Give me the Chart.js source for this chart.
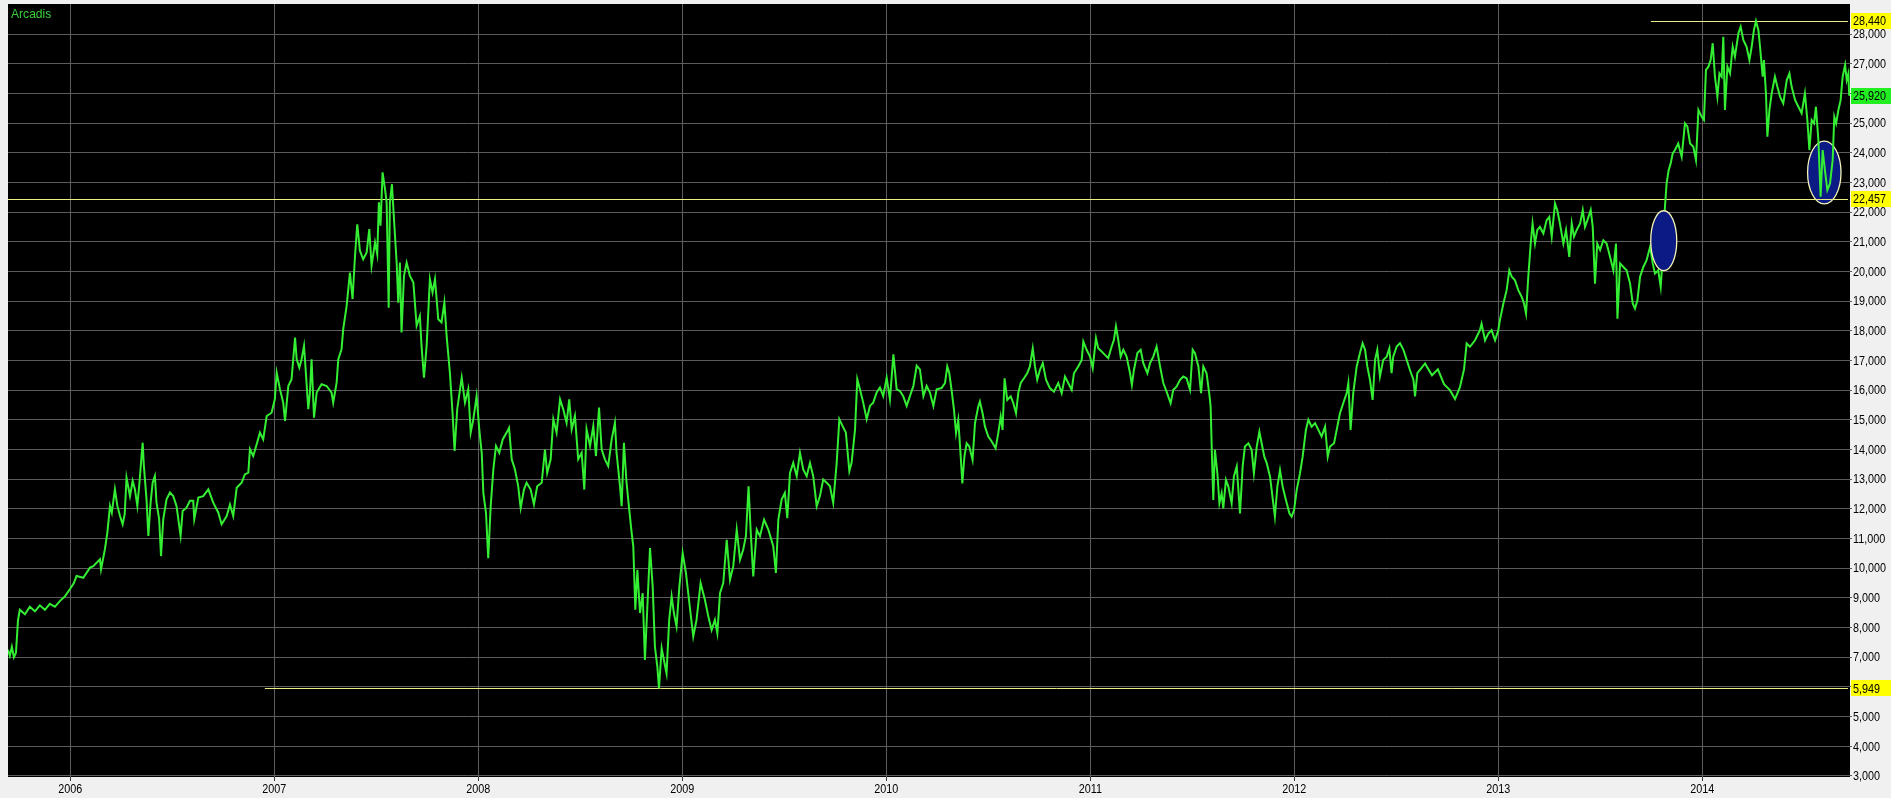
<!DOCTYPE html>
<html>
<head>
<meta charset="utf-8">
<script src="https://cdn.jsdelivr.net/npm/chart.js@4.4.1/dist/chart.umd.min.js"></script>
<style>
html,body{margin:0;padding:0;background:#f0f0f0;overflow:hidden}
#wrap{position:relative;width:1891px;height:798px}
canvas{display:block}
</style>
</head>
<body>
<div id="wrap"><canvas id="c" width="1891" height="798"></canvas></div>
<script>
// ---------- DATA ----------
const seriesName = 'Arcadis';
const yearTicks = [2006, 2007, 2008, 2009, 2010, 2011, 2012, 2013, 2014];
const priceTicks = [3000,4000,5000,6000,7000,8000,9000,10000,11000,12000,13000,14000,15000,16000,17000,18000,19000,20000,21000,22000,23000,24000,25000,26000,27000,28000];
// decimal-year dates of the samples
const dates = [
2005.695,2005.704,2005.714,2005.724,2005.734,2005.744,2005.753,2005.778,2005.802,2005.827,2005.851,2005.876,2005.900,2005.925,2005.950,2005.974,2005.999,2006.018,
2006.031,2006.064,2006.097,2006.113,2006.146,2006.151,2006.170,2006.182,2006.195,2006.204,2006.219,2006.231,2006.244,2006.257,2006.267,2006.276,2006.293,2006.306,2006.317,2006.329,2006.338,2006.355,2006.361,2006.374,2006.383,2006.394,2006.404,2006.415,2006.423,2006.436,2006.445,2006.456,2006.472,2006.489,2006.505,2006.521,2006.541,2006.551,2006.570,2006.587,2006.603,2006.608,2006.628,2006.652,2006.677,2006.701,2006.726,2006.742,2006.767,2006.783,2006.799,2006.816,2006.840,2006.856,2006.873,2006.881,2006.897,2006.914,2006.930,2006.946,2006.963,2006.987,
2007.003,2007.012,2007.028,2007.044,2007.053,2007.069,2007.085,2007.102,2007.110,2007.123,2007.134,2007.146,2007.155,2007.167,2007.175,2007.183,2007.195,2007.208,2007.232,2007.257,2007.281,2007.289,2007.306,2007.314,2007.330,2007.338,2007.355,2007.371,2007.384,2007.396,2007.407,2007.420,2007.436,2007.453,2007.466,2007.477,2007.494,2007.505,2007.513,2007.521,2007.531,2007.543,2007.551,2007.561,2007.567,2007.577,2007.587,2007.600,2007.608,2007.616,2007.624,2007.636,2007.649,2007.665,2007.682,2007.698,2007.714,2007.722,2007.734,2007.747,2007.763,2007.776,2007.788,2007.804,2007.820,2007.834,2007.845,2007.861,2007.874,2007.884,2007.897,2007.919,2007.935,2007.951,
2007.963,2007.976,2007.992,2008.005,2008.017,2008.025,2008.038,2008.049,2008.061,2008.074,2008.087,2008.103,2008.120,2008.139,2008.151,2008.164,2008.180,2008.196,2008.208,2008.224,2008.237,2008.257,2008.273,2008.289,2008.311,2008.327,2008.338,2008.355,2008.368,2008.384,2008.401,2008.417,2008.433,2008.446,2008.458,2008.474,2008.490,2008.507,2008.520,2008.531,2008.548,2008.564,2008.577,2008.592,2008.605,2008.621,2008.637,2008.654,2008.670,2008.678,2008.695,2008.703,2008.714,2008.727,2008.740,2008.752,2008.760,2008.770,2008.780,2008.793,2008.806,2008.817,2008.829,2008.842,2008.855,2008.866,2008.878,2008.886,2008.899,2008.910,2008.923,2008.936,2008.948,2008.959,2008.972,2008.986,
2009.002,2009.018,2009.035,2009.054,2009.070,2009.090,2009.111,2009.128,2009.144,2009.160,2009.172,2009.185,2009.201,2009.218,2009.234,2009.250,2009.267,2009.283,2009.299,2009.312,2009.325,2009.335,2009.348,2009.365,2009.381,2009.401,2009.422,2009.446,2009.459,2009.471,2009.487,2009.503,2009.515,2009.528,2009.544,2009.561,2009.577,2009.593,2009.610,2009.626,2009.642,2009.659,2009.675,2009.691,2009.708,2009.724,2009.740,2009.757,2009.770,2009.786,2009.802,2009.819,2009.830,2009.847,2009.858,2009.871,2009.887,2009.904,2009.920,2009.936,2009.953,2009.969,2009.985,
2010.002,2010.018,2010.035,2010.051,2010.067,2010.083,2010.100,2010.116,2010.133,2010.149,2010.165,2010.182,2010.198,2010.214,2010.231,2010.247,2010.271,2010.288,2010.299,2010.309,2010.320,2010.332,2010.342,2010.353,2010.365,2010.373,2010.383,2010.394,2010.407,2010.423,2010.435,2010.451,2010.459,2010.472,2010.484,2010.500,2010.517,2010.536,2010.549,2010.561,2010.570,2010.580,2010.593,2010.610,2010.623,2010.636,2010.647,2010.659,2010.675,2010.691,2010.704,2010.718,2010.729,2010.740,2010.753,2010.767,2010.783,2010.802,2010.822,2010.843,2010.860,2010.876,2010.892,2010.909,2010.920,2010.941,2010.958,2010.966,2010.982,2010.999,
2011.012,2011.028,2011.039,2011.056,2011.072,2011.088,2011.105,2011.116,2011.126,2011.137,2011.149,2011.162,2011.178,2011.195,2011.204,2011.214,2011.231,2011.247,2011.260,2011.280,2011.293,2011.309,2011.325,2011.342,2011.358,2011.374,2011.394,2011.407,2011.423,2011.440,2011.456,2011.472,2011.489,2011.502,2011.513,2011.530,2011.543,2011.554,2011.570,2011.584,2011.590,2011.597,2011.603,2011.611,2011.623,2011.633,2011.644,2011.652,2011.665,2011.677,2011.693,2011.704,2011.718,2011.734,2011.747,2011.758,2011.775,2011.791,2011.802,2011.816,2011.829,2011.840,2011.853,2011.865,2011.881,2011.897,2011.905,2011.917,2011.930,2011.943,2011.959,2011.976,2011.987,2011.999,
2012.012,2012.028,2012.041,2012.057,2012.069,2012.085,2012.102,2012.118,2012.134,2012.151,2012.164,2012.175,2012.195,2012.211,2012.224,2012.240,2012.257,2012.265,2012.276,2012.289,2012.306,2012.322,2012.335,2012.347,2012.358,2012.371,2012.384,2012.396,2012.407,2012.420,2012.436,2012.453,2012.466,2012.477,2012.485,2012.502,2012.518,2012.535,2012.551,2012.567,2012.584,2012.592,2012.603,2012.616,2012.641,2012.675,2012.704,2012.734,2012.763,2012.788,2012.812,2012.832,2012.845,2012.861,2012.886,2012.910,2012.918,2012.935,2012.951,2012.967,2012.984,
2013.000,2013.008,2013.025,2013.041,2013.054,2013.066,2013.082,2013.098,2013.115,2013.126,2013.136,2013.147,2013.159,2013.168,2013.180,2013.191,2013.204,2013.221,2013.237,2013.250,2013.262,2013.278,2013.289,2013.302,2013.319,2013.332,2013.348,2013.360,2013.371,2013.384,2013.401,2013.414,2013.425,2013.437,2013.453,2013.463,2013.474,2013.485,2013.499,2013.515,2013.531,2013.548,2013.564,2013.577,2013.584,2013.597,2013.613,2013.629,2013.646,2013.659,2013.670,2013.682,2013.695,2013.711,2013.727,2013.744,2013.757,2013.768,2013.784,2013.796,2013.806,2013.812,2013.817,2013.825,2013.835,2013.845,2013.855,2013.866,2013.882,2013.899,2013.915,2013.927,2013.940,2013.956,2013.969,2013.981,2013.997,
2014.008,2014.018,2014.030,2014.041,2014.051,2014.062,2014.074,2014.084,2014.095,2014.103,2014.111,2014.123,2014.136,2014.149,2014.160,2014.177,2014.188,2014.201,2014.217,2014.231,2014.242,2014.253,2014.263,2014.275,2014.283,2014.296,2014.302,2014.312,2014.319,2014.329,2014.340,2014.356,2014.368,2014.381,2014.397,2014.414,2014.427,2014.438,2014.455,2014.471,2014.487,2014.503,2014.515,2014.525,2014.536,2014.548,2014.557,2014.569,2014.580,2014.590,2014.601,2014.613,2014.626,2014.639,2014.647,2014.656,2014.667,2014.678,2014.688,2014.700,2014.708,2014.716,2014.720
];
// prices as shown on the chart
const prices = [
7250,7050,7350,7000,7150,8250,8600,8450,8700,8550,8750,8600,8800,8700,8900,9050,9300,9500,
9740,9680,10020,10070,10300,9960,10640,11200,12100,11870,12660,12100,11760,11480,11820,13050,12430,12940,12660,12100,12770,14230,13450,12320,11090,12210,12880,13110,12210,11650,10410,11650,12320,12550,12430,12100,11090,11930,12040,12270,12270,11650,12380,12430,12660,12210,11870,11480,11760,12150,11760,12710,12880,13160,13220,14010,13780,14180,14570,14340,15130,15240,
15690,16590,16030,15580,14960,16140,16370,17770,17040,16760,17040,17490,16590,15360,15920,17040,15070,15920,16200,16140,15920,15580,16260,17040,17380,18050,18840,19960,19070,20530,21590,20700,20410,20640,21430,20190,20980,20580,22330,21540,23340,22770,22330,18780,22330,22940,21760,20300,18950,20300,17940,19850,20300,19850,19630,18170,18500,17490,16420,17490,19740,19290,19740,18390,18280,18950,17830,16590,15240,13950,15360,16420,15580,16030,
14570,15020,15800,14680,13890,12540,11860,10340,12090,13330,14120,13890,14340,14570,14730,13670,13330,12760,12030,12650,12880,12650,12150,12760,12880,14000,13210,13670,15020,14570,15690,15350,14900,15690,14680,15130,13670,13890,12650,14680,14120,14790,13780,15410,14000,13670,13440,14340,14900,13890,12760,12090,14230,12880,11980,11190,10740,8600,9950,8490,9160,6910,8710,10680,9390,7360,6680,5949,7300,6910,6460,8260,9050,8490,8040,9390,
10510,9840,8820,7700,8260,9500,8940,8370,7920,8260,7810,9160,9500,10960,9610,10060,11300,10290,10630,11080,12760,11300,9720,11300,11080,11640,11300,10740,9840,11640,12310,12540,11690,13210,13550,13100,13890,13330,13100,13550,13100,12090,12430,12990,12880,12760,12200,13550,15020,14790,14570,13270,13550,14680,16370,16030,15580,15020,15470,15580,15920,16090,15800,
16420,15690,17210,16030,15970,15800,15470,15800,16140,16820,16700,15800,16140,15920,15470,16030,16070,16240,16800,16570,16010,15340,14550,15000,13760,12860,13760,14210,14100,13650,14890,15450,15620,15220,14770,14440,14270,14040,14550,15110,14660,16400,15670,15790,15560,15220,15900,16240,16400,16570,16800,17410,16800,16350,16680,16910,16350,16070,15950,16240,15900,16460,16240,16010,16570,16800,17020,17640,17360,17130,
16740,17750,17410,17300,17190,17080,17470,17700,18150,17700,17130,17360,17130,16570,16180,16680,17250,17360,16910,16570,16910,17130,17470,16800,16240,15950,15560,16010,16120,16350,16460,16400,16010,17360,17250,16800,15900,16800,16570,15840,15450,13650,12300,13990,13200,12190,12530,12020,12980,12750,12190,13090,13430,11850,13430,14100,14210,13990,13200,14100,14600,14210,13760,13540,13090,12190,11740,12750,13310,12750,12300,11850,11740,11960,
12640,13200,13760,14660,15000,14770,14890,14660,14440,14770,13760,14100,14210,14770,15220,15560,15900,16240,14660,15900,16800,17250,17580,17360,16800,16350,15670,17020,17360,16460,17020,17130,17410,16570,17130,17470,17580,17360,17020,16680,16350,15790,16570,16680,16900,16500,16700,16200,16000,15700,16100,16700,17570,17460,17680,18020,18240,17680,17910,18020,17680,
18020,18360,18920,19370,20040,19820,19700,19370,19140,18920,18580,19820,20940,21620,20940,21390,21500,21280,21730,21840,21170,22290,22070,21620,20940,21390,20490,21620,21170,21390,21620,22070,21500,21730,22070,21500,19590,20940,20720,21050,20940,20490,20040,20940,18410,20270,20150,20040,19590,18920,18750,19030,19820,20150,20380,20830,20270,19930,20040,19480,20490,21620,22180,22960,23410,23640,23980,24090,24310,23860,24990,24880,24310,24200,23750,25440,25210,
25100,26790,26900,27120,27690,26560,25890,26670,26560,27910,25440,26900,26670,27570,27240,28020,28250,27800,27570,27120,27570,28130,28440,28130,27570,26560,27120,26000,24540,25440,26000,26560,26220,25890,25660,26450,26670,26220,25770,25550,25330,26000,25100,24090,25100,24990,25550,24430,22520,24090,23410,22740,22960,23750,25210,24990,25440,25770,26560,26960,26450,26670,25920
];
// horizontal level lines and their labels
const levelValues = [28440, 22457, 5949];
const levelStarts = [2013.748, 2005.695, 2006.954];
const levelEnd = 2014.714;
const lastPrice = 25920;
// highlighted ellipses: centre date, centre price, half-width (years), half-height (price)
const ellipseDates = [2013.811, 2014.598];
const ellipsePrices = [21035, 23334];
const ellipseHalfWidths = [0.0637, 0.0819];
const ellipseHalfHeights = [1010, 1060];
const ellipseInFront = [true, false];

// ---------- STYLE ----------
const FONT = '"Liberation Sans", Arial, sans-serif';
const GRID = '#5c5c5c';
const LINE_GREEN = '#33ee33';
const LEVEL_YELLOW = '#ecec86';

function narrowText(ctx, text, x, y, align, size, squeeze) {
  ctx.save();
  ctx.font = size + 'px ' + FONT;
  ctx.translate(x, y);
  ctx.scale(squeeze, 1);
  ctx.textAlign = align;
  ctx.fillText(text, 0, 0);
  ctx.restore();
}

function drawEllipse(chart, i) {
  const {ctx, scales: {x, y}} = chart;
  const cx = x.getPixelForValue(ellipseDates[i]);
  const cy = y.getPixelForValue(ellipsePrices[i]);
  const rx = Math.abs(x.getPixelForValue(ellipseDates[i] + ellipseHalfWidths[i]) - cx);
  const ry = Math.abs(y.getPixelForValue(ellipsePrices[i] + ellipseHalfHeights[i]) - cy);
  ctx.save();
  ctx.beginPath();
  ctx.ellipse(cx, cy, rx, ry, 0, 0, Math.PI * 2);
  ctx.fillStyle = '#0c1a86';
  ctx.fill();
  ctx.lineWidth = 1.3;
  ctx.strokeStyle = '#f4f4b4';
  ctx.stroke();
  ctx.restore();
}

const hidden = v => [lastPrice, ...levelValues].some(h => Math.abs(h - v) < 150);

const overlays = {
  id: 'overlays',
  beforeDraw(chart) {
    const {ctx, chartArea: a} = chart;
    ctx.save();
    ctx.fillStyle = '#f0f0f0';
    ctx.fillRect(0, 0, chart.width, chart.height);
    ctx.fillStyle = '#000000';
    ctx.fillRect(a.left, a.top, a.right - a.left, a.bottom - a.top);
    ctx.restore();
  },
  beforeDatasetsDraw(chart) {
    const {ctx, chartArea: a, scales: {x, y}} = chart;
    ellipseInFront.forEach((f, i) => { if (!f) drawEllipse(chart, i); });
    ctx.save();
    ctx.beginPath();
    ctx.rect(a.left, a.top, a.right - a.left, a.bottom - a.top);
    ctx.clip();
    ctx.strokeStyle = LEVEL_YELLOW;
    ctx.lineWidth = 1;
    levelValues.forEach((v, i) => {
      const py = Math.round(y.getPixelForValue(v)) + 0.5;
      ctx.beginPath();
      ctx.moveTo(x.getPixelForValue(levelStarts[i]), py);
      ctx.lineTo(x.getPixelForValue(levelEnd), py);
      ctx.stroke();
    });
    ctx.restore();
  },
  afterDatasetsDraw(chart) {
    ellipseInFront.forEach((f, i) => { if (f) drawEllipse(chart, i); });
  },
  afterDraw(chart) {
    const {ctx, chartArea: a, scales: {x, y}} = chart;
    ctx.save();
    ctx.fillStyle = '#000';
    ctx.textBaseline = 'middle';
    // year labels
    yearTicks.forEach(v => {
      narrowText(ctx, String(v), x.getPixelForValue(v), 789, 'center', 13.5, 0.8);
    });
    // price labels
    priceTicks.forEach(v => {
      if (hidden(v)) return;
      narrowText(ctx, v.toLocaleString('en-US'), a.right + 3, y.getPixelForValue(v) + 0.5, 'left', 13.5, 0.8);
    });
    // highlighted level / last price labels
    const boxes = levelValues.map(v => ({v, bg: '#ffff00'}));
    boxes.push({v: lastPrice, bg: '#22ee22'});
    boxes.forEach(b => {
      const py = y.getPixelForValue(b.v);
      ctx.fillStyle = b.bg;
      ctx.fillRect(a.right + 1, Math.round(py) - 8, chart.width - a.right - 1, 16);
      ctx.fillStyle = '#000';
      narrowText(ctx, b.v.toLocaleString('en-US'), a.right + 3, py + 0.5, 'left', 13.5, 0.8);
    });
    // series name
    ctx.fillStyle = '#38d038';
    ctx.textBaseline = 'alphabetic';
    narrowText(ctx, seriesName, a.left + 3, a.top + 14, 'left', 13, 0.93);
    ctx.restore();
  }
};

new Chart(document.getElementById('c'), {
  type: 'line',
  data: {
    datasets: [{
      label: seriesName,
      data: dates.map((d, i) => ({x: d, y: prices[i]})),
      borderColor: LINE_GREEN,
      borderWidth: 2,
      pointRadius: 0,
      tension: 0,
      fill: false
    }]
  },
  options: {
    responsive: false,
    animation: false,
    events: [],
    layout: {padding: {left: 8, top: 4, right: 0, bottom: 0}},
    plugins: {legend: {display: false}, tooltip: {enabled: false}, title: {display: false}},
    scales: {
      x: {
        type: 'linear',
        position: 'bottom',
        min: 2005.695,
        max: 2014.724,
        afterBuildTicks: s => { s.ticks = yearTicks.map(v => ({value: v})); },
        afterFit: s => { s.height = 21; },
        grid: {color: GRID, lineWidth: 1, tickLength: 4, tickColor: '#3a3a3a', drawOnChartArea: true},
        border: {display: false},
        ticks: {display: false, autoSkip: false, maxRotation: 0}
      },
      y: {
        type: 'linear',
        position: 'right',
        min: 2966,
        max: 29011,
        afterBuildTicks: s => { s.ticks = priceTicks.map(v => ({value: v})); },
        afterFit: s => { s.width = 41; },
        grid: {color: GRID, lineWidth: 1, tickLength: 2, tickColor: GRID},
        border: {display: false},
        ticks: {display: false, autoSkip: false}
      }
    }
  },
  plugins: [overlays]
});
</script>
</body>
</html>
